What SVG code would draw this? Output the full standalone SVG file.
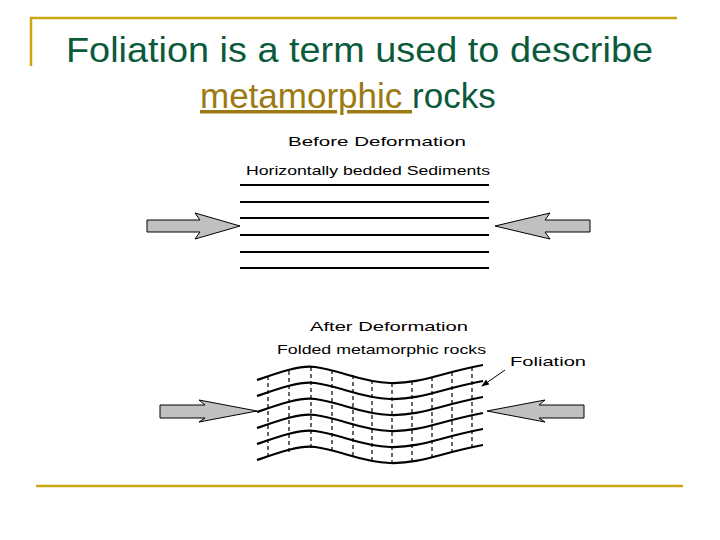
<svg xmlns="http://www.w3.org/2000/svg" width="720" height="540" viewBox="0 0 720 540">
<style>
.t{font-family:"Liberation Sans",Arial,sans-serif;font-size:35px;fill:#0b5a3c}
.s{font-family:"Liberation Sans",Arial,sans-serif;font-size:13px;fill:#000}
.b{stroke:#000;stroke-width:2;fill:none}
.w{stroke:#000;stroke-width:2.2;fill:none}
.d{stroke:#000;stroke-width:1.2;stroke-dasharray:4,3}
.a{fill:#c0c0c0;stroke:#000;stroke-width:1}
</style>
<defs><marker id="m" markerWidth="8" markerHeight="6" refX="7" refY="3" orient="auto"><path d="M0,0L8,3L0,6z" fill="#000"/></marker></defs>
<rect width="720" height="540" fill="#fff"/>
<g id="frame" stroke="#c9a814" stroke-width="2.5" fill="none">
<path d="M31,66V18H677"/><path d="M36,486H683"/>
</g>
<g id="title">
<text class="t" x="66" y="62" textLength="587" lengthAdjust="spacingAndGlyphs">Foliation is a term used to describe</text>
<text class="t" x="200" y="108"><tspan fill="#9c7a12" text-decoration="underline">metamorphic </tspan>rocks</text>
</g>
<g id="before">
<text class="s" x="288" y="146" textLength="178" lengthAdjust="spacingAndGlyphs">Before Deformation</text>
<text class="s" x="246" y="175" textLength="244" lengthAdjust="spacingAndGlyphs">Horizontally bedded Sediments</text>
<path class="b" d="M240,185H489" stroke-width="1.2"/>
<path class="b" d="M240,202H489M240,218H489M240,235H489M240,252H489M240,268H489"/>
</g>
<g id="after">
<text class="s" x="310" y="331" textLength="158" lengthAdjust="spacingAndGlyphs">After Deformation</text>
<text class="s" x="277" y="354" textLength="209" lengthAdjust="spacingAndGlyphs">Folded metamorphic rocks</text>
<text class="s" x="510" y="366" textLength="76" lengthAdjust="spacingAndGlyphs">Foliation</text>
<g id="waves">
<path class="w" d="M257,380C280,372 300,365 315,367C340,370 360,382 390,383C420,384 440,373 483,365"/>
<path class="w" d="M257,396C280,388 300,381 315,383C340,386 360,398 390,399C420,400 440,389 483,381"/>
<path class="w" d="M257,412C280,404 300,397 315,399C340,402 360,414 390,415C420,416 440,405 483,397"/>
<path class="w" d="M257,428C280,420 300,413 315,415C340,418 360,430 390,431C420,432 440,421 483,413"/>
<path class="w" d="M257,444C280,436 300,429 315,431C340,434 360,446 390,447C420,448 440,437 483,429"/>
<path class="w" d="M257,460C280,452 300,445 315,447C340,450 360,462 390,463C420,464 440,453 483,445"/>
</g>
<g id="dashes">
<path class="d" d="M268,376V458M289,371V453M311,367V449M332,370V452M353,375V458M372,380V462M392,383V465M412,381V463M432,377V459M452,372V454M472,367V449"/>
</g>
</g>
<g id="connectors">
<path class="a" d="M147,220H200L195,213L240,226L195,239L200,232H147z"/>
<path class="a" d="M590,220H545L550,213L495,226L550,239L545,232H590z"/>
<path class="a" d="M160,405H205L199,400L257,411L199,422L205,418H160z"/>
<path class="a" d="M584,405H539L545,400L487,411L545,422L539,418H584z"/>
<path d="M505,370L482,386" stroke="#000" stroke-width="1" marker-end="url(#m)"/>
</g>
</svg>
